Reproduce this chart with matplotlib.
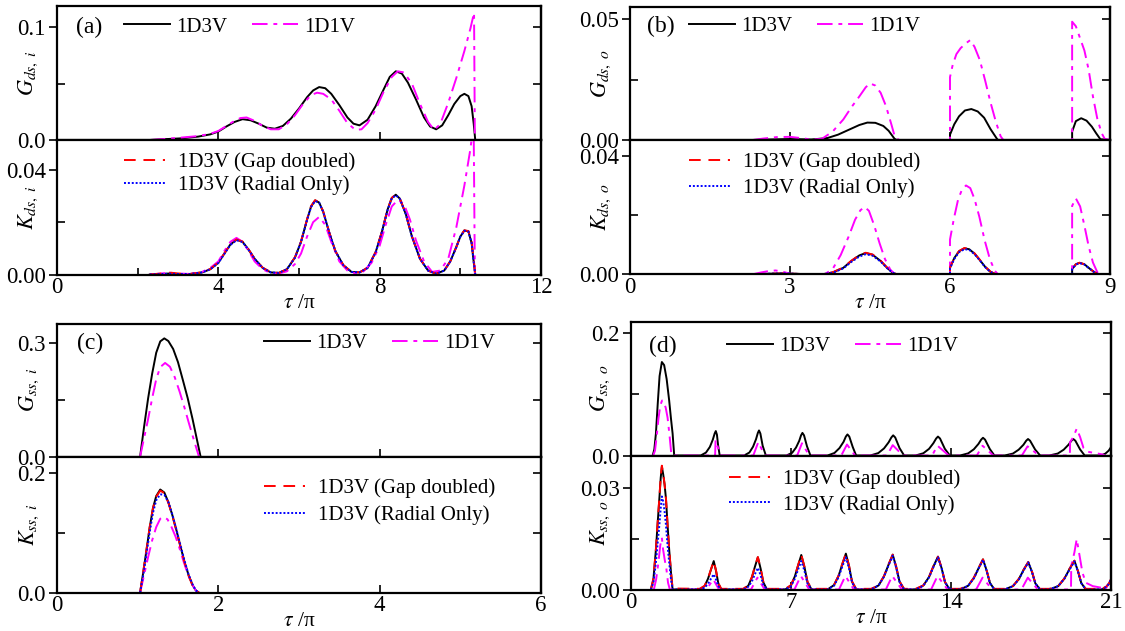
import matplotlib
matplotlib.use("Agg")
import matplotlib.pyplot as plt

plt.rcParams['font.family'] = ['Liberation Serif', 'DejaVu Serif']
plt.rcParams['mathtext.fontset'] = 'stix'

W, H = 1125, 631

# ---------------- Panel (a) ----------------
a_g3_x = [2.3, 2.7, 3.1, 3.5, 3.8, 4.0, 4.2, 4.4, 4.6, 4.8, 5.0, 5.2, 5.4, 5.6, 5.8, 6.0, 6.2, 6.35, 6.5, 6.65,
          6.8, 7.0, 7.2, 7.35, 7.5, 7.7, 7.9, 8.1, 8.25, 8.4, 8.55, 8.7, 8.9, 9.1, 9.25, 9.4, 9.55, 9.7, 9.85,
          10.0, 10.1, 10.2, 10.28, 10.33, 10.37]
a_g3_y = [0, 0.0008, 0.0015, 0.003, 0.005, 0.0075, 0.012, 0.016, 0.0185, 0.0175, 0.0145, 0.011, 0.010, 0.0125,
          0.019, 0.028, 0.038, 0.044, 0.047, 0.046, 0.041, 0.031, 0.020, 0.0145, 0.013, 0.018, 0.030, 0.045,
          0.056, 0.061, 0.059, 0.051, 0.036, 0.020, 0.012, 0.0095, 0.013, 0.022, 0.032, 0.039, 0.041, 0.039,
          0.030, 0.015, 0.0]
a_g1_x = [2.3, 2.7, 3.1, 3.5, 3.8, 4.0, 4.2, 4.4, 4.55, 4.7, 4.9, 5.1, 5.3, 5.5, 5.7, 5.9, 6.1, 6.3, 6.45, 6.6,
          6.8, 7.0, 7.2, 7.4, 7.55, 7.7, 7.9, 8.1, 8.3, 8.45, 8.6, 8.8, 9.0, 9.2, 9.35, 9.5, 9.7, 9.9, 10.1,
          10.25, 10.34, 10.36]
a_g1_y = [0, 0.001, 0.0022, 0.0035, 0.0055, 0.008, 0.0125, 0.017, 0.0195, 0.020, 0.017, 0.0125, 0.0095, 0.0095,
          0.014, 0.022, 0.032, 0.040, 0.042, 0.041, 0.036, 0.026, 0.015, 0.009, 0.0095, 0.015, 0.027, 0.043,
          0.056, 0.061, 0.060, 0.050, 0.032, 0.016, 0.009, 0.014, 0.033, 0.055, 0.079, 0.099, 0.113, 0.0]
a_k3_x = [2.3, 2.6, 2.8, 3.0, 3.3, 3.6, 3.8, 4.0, 4.15, 4.3, 4.45, 4.6, 4.75, 4.9, 5.1, 5.3, 5.5, 5.7, 5.9, 6.05,
          6.2, 6.3, 6.4, 6.5, 6.6, 6.75, 6.9, 7.1, 7.3, 7.5, 7.7, 7.9, 8.05, 8.2, 8.3, 8.4, 8.5, 8.65, 8.8, 9.0,
          9.2, 9.4, 9.6, 9.75, 9.9, 10.0, 10.1, 10.2, 10.28, 10.33, 10.37]
a_k3_y = [0, 0.0002, 0.0004, 0.0002, 0.0002, 0.0008, 0.002, 0.0045, 0.008, 0.0115, 0.0133, 0.0125, 0.0095, 0.006,
          0.0025, 0.0008, 0.0006, 0.002, 0.0065, 0.0125, 0.021, 0.026, 0.0283, 0.0275, 0.024, 0.016, 0.009,
          0.0035, 0.001, 0.0008, 0.0025, 0.0085, 0.016, 0.025, 0.0292, 0.0305, 0.029, 0.023, 0.0145, 0.006,
          0.0015, 0.0003, 0.0015, 0.005, 0.0105, 0.0145, 0.0168, 0.0165, 0.012, 0.005, 0.0]
a_kgap_y = [0, 0.0004, 0.0007, 0.0004, 0.0002, 0.0009, 0.0021, 0.0046, 0.0081, 0.0116, 0.0134, 0.0126, 0.0096,
            0.006, 0.0026, 0.0009, 0.0006, 0.002, 0.0066, 0.0126, 0.0211, 0.0262, 0.0284, 0.0276, 0.0241, 0.0161,
            0.009, 0.0036, 0.001, 0.0008, 0.0026, 0.0086, 0.0161, 0.0251, 0.0293, 0.0306, 0.0291, 0.0231,
            0.0146, 0.006, 0.0015, 0.0003, 0.0015, 0.005, 0.0105, 0.0146, 0.0169, 0.0166, 0.0125, 0.006, 0.0]
a_krad_y = [0, 0.0002, 0.0003, 0.0002, 0.0002, 0.0008, 0.002, 0.0044, 0.0079, 0.0113, 0.0131, 0.0124, 0.0094,
            0.006, 0.0025, 0.0008, 0.0006, 0.002, 0.0064, 0.0124, 0.0208, 0.0258, 0.0281, 0.0274, 0.0239, 0.016,
            0.009, 0.0035, 0.001, 0.0008, 0.0025, 0.0084, 0.0159, 0.0248, 0.029, 0.0303, 0.0289, 0.023, 0.0145,
            0.006, 0.0015, 0.0003, 0.0015, 0.005, 0.0104, 0.0144, 0.0167, 0.0164, 0.012, 0.005, 0.0]
a_k1_x = [2.3, 2.6, 2.8, 3.0, 3.3, 3.6, 3.8, 4.0, 4.15, 4.3, 4.45, 4.6, 4.75, 4.9, 5.1, 5.3, 5.5, 5.7, 5.9, 6.05,
          6.2, 6.35, 6.5, 6.65, 6.8, 7.0, 7.2, 7.4, 7.6, 7.8, 8.0, 8.15, 8.3, 8.45, 8.6, 8.75, 8.9, 9.1, 9.3,
          9.5, 9.7, 9.9, 10.1, 10.25, 10.33, 10.36]
a_k1_y = [0, 0.0004, 0.0007, 0.0004, 0.0002, 0.001, 0.0025, 0.005, 0.009, 0.0125, 0.014, 0.0125, 0.009, 0.005,
          0.002, 0.0005, 0.0004, 0.0012, 0.004, 0.008, 0.0145, 0.020, 0.022, 0.019, 0.0125, 0.005, 0.0015,
          0.0004, 0.0012, 0.0045, 0.011, 0.019, 0.026, 0.0285, 0.027, 0.021, 0.013, 0.005, 0.001, 0.0015,
          0.006, 0.018, 0.034, 0.048, 0.058, 0.0]

# ---------------- Panel (b) ----------------
b_g3_x = [2.3, 2.6, 3.0, 3.4, 3.7, 3.9, 4.1, 4.3, 4.45, 4.6, 4.75, 4.85, 4.96, 5.0, 6.0, 6.0, 6.08, 6.17, 6.28,
          6.4, 6.52, 6.64, 6.76, 6.88, 6.9, 8.29, 8.29, 8.36, 8.46, 8.56, 8.66, 8.74, 8.82, 9.0]
b_g3_y = [0, 0.0002, 0.0004, 0.0002, 0.0008, 0.0022, 0.0042, 0.0062, 0.0072, 0.0071, 0.0058, 0.0038, 0.0005, 0,
          0, 0.0022, 0.0065, 0.0098, 0.0122, 0.0128, 0.0118, 0.0092, 0.0045, 0.0005, 0, 0, 0.0035, 0.0078,
          0.0090, 0.0080, 0.0055, 0.0028, 0.0003, 0]
b_g1_x = [2.3, 2.5, 2.75, 3.0, 3.2, 3.4, 3.6, 3.8, 4.0, 4.15, 4.3, 4.42, 4.5, 4.6, 4.7, 4.8, 4.9, 4.97, 5.05,
          6.0, 6.0, 6.05, 6.12, 6.2, 6.3, 6.38, 6.46, 6.56, 6.66, 6.76, 6.86, 6.95, 7.0,
          8.29, 8.29, 8.36, 8.44, 8.52, 8.6, 8.68, 8.76, 8.84, 8.9, 9.0]
b_g1_y = [0, 0.0006, 0.0012, 0.0013, 0.0008, 0.0002, 0.0005, 0.0035, 0.0085, 0.0135, 0.018, 0.0218, 0.0234,
          0.0225, 0.0195, 0.0140, 0.0065, 0.0010, 0,
          0, 0.026, 0.031, 0.0355, 0.038, 0.040, 0.0413, 0.0385, 0.033, 0.0245, 0.0155, 0.0075, 0.0015, 0,
          0, 0.0489, 0.047, 0.042, 0.037, 0.029, 0.018, 0.009, 0.003, 0.0005, 0]
b_k3_x = [2.3, 2.6, 2.9, 3.2, 3.6, 3.8, 4.0, 4.15, 4.3, 4.42, 4.55, 4.7, 4.82, 4.92, 5.0, 6.0, 6.0, 6.08, 6.17,
          6.27, 6.36, 6.46, 6.56, 6.66, 6.76, 6.86, 8.29, 8.29, 8.36, 8.43, 8.52, 8.6, 8.7, 8.78, 9.0]
b_k3_y = [0, 0.0002, 0.0003, 0.0001, 0, 0.0006, 0.0022, 0.0045, 0.0064, 0.0072, 0.0066, 0.0045, 0.0022, 0.0006,
          0, 0, 0.0022, 0.0055, 0.0078, 0.0088, 0.0085, 0.0070, 0.0048, 0.0025, 0.0008, 0, 0, 0.0018, 0.0034,
          0.0039, 0.0034, 0.0022, 0.0008, 0, 0]
b_kgap_y = [0, 0.0002, 0.0003, 0.0001, 0, 0.0007, 0.0023, 0.0046, 0.0065, 0.0073, 0.0067, 0.0046, 0.0023,
            0.0007, 0, 0, 0.0023, 0.0056, 0.0079, 0.0089, 0.0086, 0.0071, 0.0049, 0.0026, 0.0009, 0, 0, 0.0018,
            0.0034, 0.0039, 0.0034, 0.0022, 0.0008, 0, 0]
b_krad_y = [0, 0.0002, 0.0003, 0.0001, 0, 0.0005, 0.002, 0.0042, 0.006, 0.0068, 0.0063, 0.0043, 0.0021,
            0.0006, 0, 0, 0.002, 0.0052, 0.0075, 0.0085, 0.0083, 0.0068, 0.0047, 0.0024, 0.0008, 0, 0, 0.0017,
            0.0033, 0.0038, 0.0033, 0.0021, 0.0008, 0, 0]
b_k1_x = [2.3, 2.45, 2.6, 2.73, 2.86, 3.0, 3.1, 3.65, 3.8, 3.95, 4.1, 4.22, 4.32, 4.4, 4.48, 4.58, 4.68, 4.78,
          4.88, 4.97, 6.0, 6.0, 6.07, 6.15, 6.22, 6.3, 6.38, 6.46, 6.55, 6.65, 6.75, 6.84, 6.9,
          8.29, 8.29, 8.36, 8.44, 8.52, 8.6, 8.68, 8.76, 8.8]
b_k1_y = [0, 0.0006, 0.0011, 0.0013, 0.0009, 0.0002, 0, 0, 0.0018, 0.0065, 0.0128, 0.0185, 0.0217, 0.0228,
          0.0215, 0.0165, 0.0105, 0.0052, 0.0016, 0, 0, 0.0118, 0.0186, 0.0252, 0.0285, 0.0301, 0.0292, 0.0255,
          0.0195, 0.0115, 0.005, 0.0012, 0,
          0, 0.0232, 0.0257, 0.023, 0.0165, 0.0095, 0.004, 0.0008, 0]

# ---------------- Panel (c) ----------------
c_g3_x = [1.03, 1.08, 1.13, 1.18, 1.23, 1.28, 1.33, 1.38, 1.44, 1.5, 1.56, 1.62, 1.68, 1.73, 1.78]
c_g3_y = [0, 0.08, 0.155, 0.22, 0.275, 0.305, 0.313, 0.306, 0.285, 0.25, 0.203, 0.155, 0.10, 0.05, 0]
c_g1_x = [1.03, 1.08, 1.13, 1.18, 1.23, 1.28, 1.34, 1.4, 1.46, 1.52, 1.58, 1.64, 1.7, 1.76]
c_g1_y = [0, 0.05, 0.10, 0.155, 0.205, 0.237, 0.248, 0.238, 0.21, 0.172, 0.13, 0.085, 0.042, 0]
c_k3_x = [1.03, 1.07, 1.11, 1.15, 1.19, 1.23, 1.28, 1.33, 1.38, 1.43, 1.48, 1.53, 1.58, 1.63, 1.68, 1.72, 1.76]
c_k3_y = [0, 0.035, 0.072, 0.11, 0.142, 0.162, 0.173, 0.168, 0.152, 0.13, 0.105, 0.078, 0.052, 0.03, 0.013,
          0.004, 0]
c_kgap_y = [0, 0.036, 0.073, 0.111, 0.142, 0.161, 0.171, 0.167, 0.151, 0.129, 0.104, 0.077, 0.051, 0.029, 0.012,
            0.004, 0]
c_krad_y = [0, 0.03, 0.066, 0.102, 0.134, 0.155, 0.165, 0.164, 0.152, 0.131, 0.106, 0.08, 0.054, 0.031, 0.014,
            0.004, 0]
c_k1_x = [1.03, 1.08, 1.13, 1.18, 1.23, 1.28, 1.32, 1.37, 1.42, 1.47, 1.52, 1.57, 1.62, 1.67, 1.72, 1.75]
c_k1_y = [0, 0.03, 0.06, 0.088, 0.11, 0.124, 0.127, 0.123, 0.11, 0.094, 0.074, 0.052, 0.032, 0.015, 0.004, 0]

# ---------------- Panel (d) ----------------
d_g3_x = [0.95, 1.02, 1.09, 1.17, 1.25, 1.35, 1.45, 1.56, 1.67, 1.75, 1.82, 1.89,
          3.05, 3.28, 3.45, 3.58, 3.66, 3.71, 3.76, 3.81, 3.88,
          4.95, 5.18, 5.34, 5.47, 5.55, 5.6, 5.66, 5.76, 5.9,
          6.8, 7.05, 7.22, 7.36, 7.44, 7.5, 7.57, 7.7, 7.85,
          8.6, 8.9, 9.12, 9.3, 9.4, 9.47, 9.55, 9.7, 9.85,
          10.47, 10.82, 11.07, 11.27, 11.39, 11.47, 11.56, 11.75, 11.95,
          12.45, 12.79, 13.04, 13.23, 13.35, 13.43, 13.52, 13.73, 13.95,
          14.4, 14.75, 15.0, 15.2, 15.32, 15.4, 15.49, 15.7, 15.9,
          16.35, 16.71, 16.96, 17.17, 17.29, 17.37, 17.46, 17.68, 17.9,
          18.3, 18.67, 18.93, 19.14, 19.27, 19.35, 19.44, 19.65, 19.85,
          20.55, 20.75, 20.9, 21.0]
d_g3_y = [0, 0.01, 0.036, 0.085, 0.13, 0.153, 0.148, 0.125, 0.09, 0.06, 0.036, 0,
          0, 0.0048, 0.014, 0.026, 0.036, 0.040, 0.034, 0.017, 0,
          0, 0.0049, 0.0144, 0.0267, 0.037, 0.041, 0.036, 0.016, 0,
          0, 0.0044, 0.013, 0.024, 0.033, 0.037, 0.033, 0.015, 0,
          0, 0.0041, 0.0121, 0.0224, 0.031, 0.0345, 0.031, 0.014, 0,
          0, 0.004, 0.0116, 0.0215, 0.0295, 0.033, 0.0295, 0.012, 0,
          0, 0.0037, 0.0109, 0.0202, 0.0278, 0.031, 0.0278, 0.011, 0,
          0, 0.0035, 0.0102, 0.0189, 0.026, 0.029, 0.026, 0.0105, 0,
          0, 0.0032, 0.0095, 0.0176, 0.0242, 0.027, 0.0242, 0.0098, 0,
          0, 0.0032, 0.0095, 0.0176, 0.0242, 0.027, 0.0242, 0.0098, 0,
          0, 0.003, 0.008, 0.0137]
d_g1_x = [0.97, 1.05, 1.12, 1.2, 1.28, 1.36, 1.44, 1.52, 1.6, 1.68, 1.77,
          3.68, 3.7, 3.92, 5.35, 5.57, 5.85, 7.27, 7.48, 7.8, 9.2, 9.45, 9.8,
          11.2, 11.45, 11.9, 13.17, 13.41, 13.9, 15.13, 15.38, 15.85, 17.1, 17.35, 17.85,
          19.2, 19.21, 19.35, 19.5, 19.65, 19.8, 20.0, 20.3, 20.6, 20.75]
d_g1_y = [0, 0.008, 0.03, 0.06, 0.082, 0.09, 0.087, 0.078, 0.062, 0.035, 0,
          0, 0.025, 0, 0, 0.022, 0, 0, 0.02, 0, 0, 0.018, 0,
          0, 0.017, 0, 0, 0.016, 0, 0, 0.016, 0, 0, 0.015, 0,
          0, 0.022, 0.03, 0.044, 0.03, 0.012, 0.006, 0.004, 0.002, 0]
d_k3_x = [0.87, 0.98, 1.09, 1.17, 1.24, 1.3, 1.35, 1.41, 1.47, 1.53, 1.6, 1.67, 1.75, 1.82,
          3.0, 3.22, 3.37, 3.5, 3.62, 3.72, 3.82, 3.95,
          4.9, 5.13, 5.29, 5.42, 5.55, 5.67, 5.79, 5.95,
          6.75, 7.0, 7.17, 7.31, 7.45, 7.59, 7.72, 7.9,
          8.6, 8.88, 9.08, 9.24, 9.4, 9.54, 9.67, 9.85,
          10.5, 10.83, 11.07, 11.26, 11.45, 11.6, 11.75, 11.95,
          12.45, 12.79, 13.04, 13.23, 13.43, 13.59, 13.74, 13.95,
          14.4, 14.75, 15.0, 15.2, 15.4, 15.55, 15.7, 15.9,
          16.35, 16.71, 16.97, 17.17, 17.38, 17.54, 17.69, 17.9,
          18.3, 18.69, 18.96, 19.18, 19.4, 19.55, 19.7, 19.9,
          20.6, 20.8, 20.92, 21.0]
d_k3_y = [0, 0.003, 0.0118, 0.02, 0.0268, 0.033, 0.0363, 0.034, 0.031, 0.0268, 0.019, 0.0118, 0.005, 0,
          0, 0.001, 0.0032, 0.0059, 0.0084, 0.0055, 0.0018, 0,
          0, 0.0011, 0.0036, 0.0067, 0.0095, 0.0062, 0.0021, 0,
          0, 0.0012, 0.0039, 0.0071, 0.0102, 0.0066, 0.0022, 0,
          0, 0.0013, 0.004, 0.0074, 0.0106, 0.0069, 0.0023, 0,
          0, 0.0012, 0.0039, 0.0072, 0.0103, 0.0067, 0.0023, 0,
          0, 0.0012, 0.0037, 0.0068, 0.0097, 0.0063, 0.0021, 0,
          0, 0.0011, 0.0034, 0.0062, 0.0089, 0.0058, 0.002, 0,
          0, 0.001, 0.0031, 0.0057, 0.0081, 0.0053, 0.0018, 0,
          0, 0.001, 0.0032, 0.006, 0.0085, 0.0055, 0.0019, 0,
          0, 0.0008, 0.0018, 0.003]
d_kgap_y = [0, 0.0032, 0.012, 0.0202, 0.027, 0.0333, 0.0366, 0.0342, 0.0311, 0.0269, 0.0191, 0.0119, 0.0052, 0.0003,
            0.0002, 0.0011, 0.0033, 0.006, 0.0084, 0.0056, 0.0019, 0.0002,
            0.0002, 0.0012, 0.0037, 0.0068, 0.0096, 0.0063, 0.0022, 0.0002,
            0.0002, 0.0013, 0.004, 0.0072, 0.0103, 0.0067, 0.0023, 0.0002,
            0.0002, 0.0013, 0.0041, 0.0075, 0.0106, 0.007, 0.0024, 0.0002,
            0.0002, 0.0012, 0.004, 0.0073, 0.0103, 0.0068, 0.0024, 0.0002,
            0.0002, 0.0012, 0.0038, 0.0069, 0.0097, 0.0064, 0.0022, 0.0002,
            0.0002, 0.0011, 0.0035, 0.0063, 0.0089, 0.0059, 0.0021, 0.0002,
            0.0002, 0.001, 0.0032, 0.0058, 0.0081, 0.0054, 0.0019, 0.0002,
            0.0002, 0.001, 0.0033, 0.0061, 0.0085, 0.0056, 0.002, 0.0002,
            0.0002, 0.0009, 0.0019, 0.003]
d_krad_y = [0, 0.002, 0.008, 0.014, 0.019, 0.024, 0.0275, 0.026, 0.023, 0.019, 0.013, 0.008, 0.003, 0,
            0, 0.0005, 0.0017, 0.0032, 0.0045, 0.0029, 0.001, 0,
            0, 0.0008, 0.0024, 0.0045, 0.0064, 0.0042, 0.0014, 0,
            0, 0.001, 0.0032, 0.0059, 0.0084, 0.0055, 0.0018, 0,
            0, 0.0011, 0.0036, 0.0067, 0.0095, 0.0062, 0.0021, 0,
            0, 0.0012, 0.0038, 0.007, 0.0100, 0.0065, 0.0022, 0,
            0, 0.0011, 0.0036, 0.0066, 0.0095, 0.0062, 0.0021, 0,
            0, 0.0011, 0.0033, 0.0061, 0.0088, 0.0057, 0.0019, 0,
            0, 0.001, 0.003, 0.0056, 0.0080, 0.0052, 0.0018, 0,
            0, 0.001, 0.0032, 0.0058, 0.0083, 0.0054, 0.0019, 0,
            0, 0.0008, 0.0018, 0.003]
d_k1_x = [1.0, 1.1, 1.2, 1.28, 1.35, 1.4, 1.47, 1.55, 1.62, 1.7,
          3.3, 3.6, 3.85, 5.25, 5.53, 5.85, 7.15, 7.43, 7.8, 9.1, 9.38, 9.75,
          11.15, 11.43, 11.85, 13.13, 13.41, 13.85, 15.1, 15.38, 15.8, 17.08, 17.36, 17.8,
          19.25, 19.26, 19.4, 19.5, 19.6, 19.75, 19.9, 20.2, 20.6, 20.75, 21.0]
d_k1_y = [0, 0.003, 0.008, 0.013, 0.0153, 0.012, 0.009, 0.006, 0.002, 0,
          0, 0.003, 0, 0, 0.0035, 0, 0, 0.004, 0, 0, 0.004, 0,
          0, 0.004, 0, 0, 0.004, 0, 0, 0.0035, 0, 0, 0.0035, 0,
          0, 0.007, 0.011, 0.0149, 0.011, 0.005, 0.002, 0.001, 0.0005, 0, 0.003]

C_BLACK = 'black'
C_MAG = '#ff00ff'
C_RED = '#ff0000'
C_BLUE = '#0000ff'
LS_MAG = (0, (8, 3, 2, 3))
LS_RED = (0, (6, 4))
LS_BLUE = (0, (1, 1))
LW = 1.4
FRAME_LW = 1.6
TICK_FS = 16.5
LEG_FS = 15


def rect(l, r, t, b):
    return [l / W, 1 - b / H, (r - l) / W, (b - t) / H]


def style_axis(ax, xlim, xmajor, xminor, ylim, ylab_ticks, ylab_text, yminor, ylabel, is_bottom, xlabels):
    ax.set_xlim(*xlim)
    ax.set_ylim(*ylim)
    for s in ax.spines.values():
        s.set_linewidth(FRAME_LW)
    ax.set_xticks(xmajor)
    if is_bottom:
        ax.set_xticks(xminor, minor=True)
        ax.set_xticklabels(xlabels, fontsize=TICK_FS)
    else:
        ax.set_xticklabels([])
    ax.tick_params(axis='x', which='both', direction='in', top=False, bottom=True,
                   length=6, width=1.2, pad=2)
    ax.tick_params(axis='x', which='minor', length=5)
    ax.set_yticks(ylab_ticks)
    ax.set_yticklabels(ylab_text, fontsize=TICK_FS)
    ax.set_yticks(yminor, minor=True)
    ax.tick_params(axis='y', which='major', direction='out', left=True, right=False,
                   length=6, width=1.2, pad=2)
    ax.tick_params(axis='y', which='minor', direction='in', left=True, right=False,
                   length=6, width=1.2)
    sec = ax.secondary_yaxis('right')
    sec.set_yticks(list(ylab_ticks) + list(yminor))
    sec.set_yticklabels([])
    sec.tick_params(direction='in', length=6, width=1.2)
    sec.spines['right'].set_linewidth(FRAME_LW)
    ax.set_ylabel(ylabel, fontsize=16)


fig = plt.figure(figsize=(11.25, 6.31), dpi=100)

panels = [
    # (a)
    dict(rt=rect(57, 541, 6, 140), rb=rect(57, 541, 140, 274.5), xlim=(0, 12), xmaj=[0, 4, 8, 12],
         xmin=[2, 6, 10], xlab=['0', '4', '8', '12'],
         gylim=(0, 0.119), gt=[0, 0.1], gtl=['0.0', '0.1'], gm=[0.05],
         kylim=(0, 0.0514), kt=[0, 0.04], ktl=['0.00', '0.04'], km=[0.02],
         glab=r'$G_{ds,\ i}$', klab=r'$K_{ds,\ i}$', tag='(a)',
         g3=(a_g3_x, a_g3_y), g1=(a_g1_x, a_g1_y), k3=(a_k3_x, a_k3_y), kgap=(a_k3_x, a_kgap_y),
         krad=(a_k3_x, a_krad_y), k1=(a_k1_x, a_k1_y),
         tagpos=(76, 27), leg1=(124, 27), leg2=(124, 173.5), leg2sp=0.15, ylc=-0.036),
    # (b)
    dict(rt=rect(630, 1110, 6.7, 140), rb=rect(630, 1110, 140, 274.3), xlim=(0, 9), xmaj=[0, 3, 6, 9],
         xmin=[], xlab=['0', '3', '6', '9'],
         gylim=(0, 0.0551), gt=[0, 0.05], gtl=['0.00', '0.05'], gm=[0.025],
         kylim=(0, 0.0455), kt=[0, 0.04], ktl=['0.00', '0.04'], km=[0.02],
         glab=r'$G_{ds,\ o}$', klab=r'$K_{ds,\ o}$', tag='(b)',
         g3=(b_g3_x, b_g3_y), g1=(b_g1_x, b_g1_y), k3=(b_k3_x, b_k3_y), kgap=(b_k3_x, b_kgap_y),
         krad=(b_k3_x, b_krad_y), k1=(b_k1_x, b_k1_y),
         tagpos=(647, 26.7), leg1=(689, 26.7), leg2=(689, 175), leg2sp=0.3, ylc=-0.036),
    # (c)
    dict(rt=rect(57, 541, 324, 456.7), rb=rect(57, 541, 456.7, 592.7), xlim=(0, 6), xmaj=[0, 2, 4, 6],
         xmin=[], xlab=['0', '2', '4', '6'],
         gylim=(0, 0.351), gt=[0, 0.3], gtl=['0.0', '0.3'], gm=[0.15],
         kylim=(0, 0.228), kt=[0, 0.2], ktl=['0.0', '0.2'], km=[0.1],
         glab=r'$G_{ss,\ i}$', klab=r'$K_{ss,\ i}$', tag='(c)',
         g3=(c_g3_x, c_g3_y), g1=(c_g1_x, c_g1_y), k3=(c_k3_x, c_k3_y), kgap=(c_k3_x, c_kgap_y),
         krad=(c_k3_x, c_krad_y), k1=(c_k1_x, c_k1_y),
         tagpos=(77, 343.3), leg1=(264, 343.3), leg2=(264, 501.5), leg2sp=0.35, ylc=-0.034),
    # (d)
    dict(rt=rect(631, 1111, 321.7, 455.5), rb=rect(631, 1111, 455.5, 589.5), xlim=(0, 21),
         xmaj=[0, 7, 14, 21], xmin=[], xlab=['0', '7', '14', '21'],
         gylim=(0, 0.219), gt=[0, 0.2], gtl=['0.0', '0.2'], gm=[0.1],
         kylim=(0, 0.0396), kt=[0, 0.03], ktl=['0.00', '0.03'], km=[0.015],
         glab=r'$G_{ss,\ o}$', klab=r'$K_{ss,\ o}$', tag='(d)',
         g3=(d_g3_x, d_g3_y), g1=(d_g1_x, d_g1_y), k3=(d_k3_x, d_k3_y), kgap=(d_k3_x, d_kgap_y),
         krad=(d_k3_x, d_krad_y), k1=(d_k1_x, d_k1_y),
         tagpos=(649, 346.7), leg1=(727, 346.7), leg2=(729, 492), leg2sp=0.28, ylc=-0.040),
]

for p in panels:
    axg = fig.add_axes(p['rt'])
    axk = fig.add_axes(p['rb'])
    l_px = p['rt'][0] * W
    w_px = p['rt'][2] * W
    top_px = (1 - p['rt'][1] - p['rt'][3]) * H
    h_px = p['rt'][3] * H
    bt_px = (1 - p['rb'][1] - p['rb'][3]) * H
    bh_px = p['rb'][3] * H

    axg.plot(*p['g3'], color=C_BLACK, lw=LW, label='1D3V')
    axg.plot(*p['g1'], color=C_MAG, lw=LW, ls=LS_MAG, label='1D1V')
    axk.plot(*p['k3'], color=C_BLACK, lw=LW)
    axk.plot(*p['k1'], color=C_MAG, lw=LW, ls=LS_MAG)
    axk.plot(*p['kgap'], color=C_RED, lw=LW, ls=LS_RED, label='1D3V (Gap doubled)')
    axk.plot(*p['krad'], color=C_BLUE, lw=LW, ls=LS_BLUE, label='1D3V (Radial Only)')

    style_axis(axg, p['xlim'], p['xmaj'], p['xmin'], p['gylim'], p['gt'], p['gtl'], p['gm'],
               p['glab'], False, None)
    style_axis(axk, p['xlim'], p['xmaj'], p['xmin'], p['kylim'], p['kt'], p['ktl'], p['km'],
               p['klab'], True, p['xlab'])
    axk.set_xlabel(r'$\tau$ /π', fontsize=15.5, labelpad=-3)
    axg.yaxis.set_label_coords(p['ylc'], 0.5)
    axk.yaxis.set_label_coords(p['ylc'], 0.5)

    tx, ty = p['tagpos']
    axg.text((tx - l_px) / w_px, 1 - (ty - top_px) / h_px, p['tag'], transform=axg.transAxes,
             fontsize=17, va='center', ha='left')
    lx, ly = p['leg1']
    axg.legend(loc='center left', bbox_to_anchor=((lx - l_px) / w_px, 1 - (ly - top_px) / h_px),
               ncol=2, frameon=False, fontsize=LEG_FS, borderpad=0, borderaxespad=0, handlelength=2.2,
               handletextpad=0.3, columnspacing=1.2)
    lx, ly = p['leg2']
    axk.legend(loc='center left', bbox_to_anchor=((lx - l_px) / w_px, 1 - (ly - bt_px) / bh_px),
               ncol=1, frameon=False, fontsize=LEG_FS, borderpad=0, borderaxespad=0, handlelength=1.95,
               handletextpad=0.65, labelspacing=p['leg2sp'])

fig.savefig('out.png', dpi=100)
